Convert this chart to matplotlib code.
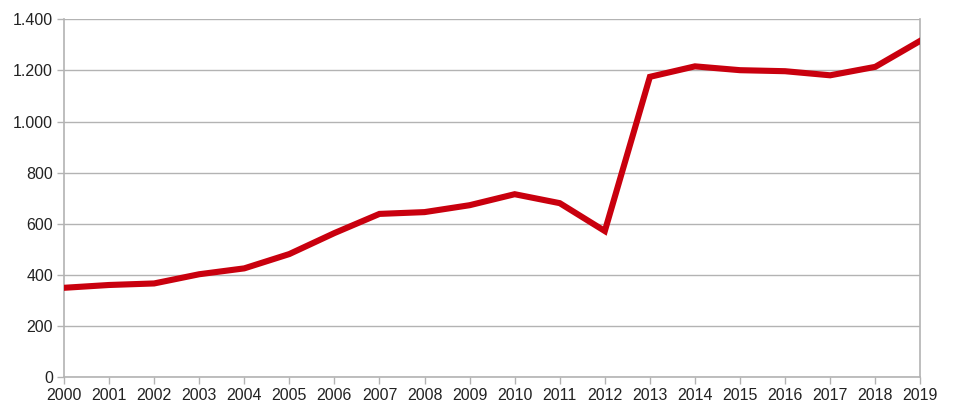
import matplotlib
matplotlib.use('Agg')
import matplotlib.pyplot as plt
from matplotlib.ticker import FuncFormatter

years = [2000, 2001, 2002, 2003, 2004, 2005, 2006, 2007, 2008, 2009,
         2010, 2011, 2012, 2013, 2014, 2015, 2016, 2017, 2018, 2019]
values = [350, 361, 367, 403, 426, 482, 564, 639, 646, 673,
          716, 681, 572, 1175, 1216, 1201, 1197, 1181, 1214, 1316]
y_ticks = [0, 200, 400, 600, 800, 1000, 1200, 1400]

plt.rcParams['font.family'] = ['Liberation Sans', 'DejaVu Sans']

fig = plt.figure(figsize=(9.6, 4.12), dpi=100)
ax = fig.add_axes([64 / 960, 1 - 377.3 / 412, (920.3 - 64) / 960, (377.3 - 19.3) / 412])

ax.plot(years, values, color='#c9000e', linewidth=4.4, solid_joinstyle='miter', zorder=3)

grid_col = '#b3b3b3'
ax.set_xlim(years[0], years[-1])
ax.set_ylim(0, 1400)
ax.set_xticks(years)
ax.set_yticks(y_ticks)
ax.yaxis.set_major_formatter(FuncFormatter(lambda v, p: f'{int(v):,}'.replace(',', '.')))
ax.grid(axis='y', color=grid_col, linewidth=1)
ax.set_axisbelow(True)
for s in ['left', 'right', 'bottom']:
    ax.spines[s].set_color(grid_col)
    ax.spines[s].set_linewidth(1.2)
ax.spines['top'].set_visible(False)
ax.tick_params(axis='both', colors=grid_col, length=5, width=1, labelcolor='#222222', labelsize=11.5)
ax.tick_params(axis='x', pad=3)
ax.tick_params(axis='y', pad=3)

fig.savefig('out.png', dpi=100)
